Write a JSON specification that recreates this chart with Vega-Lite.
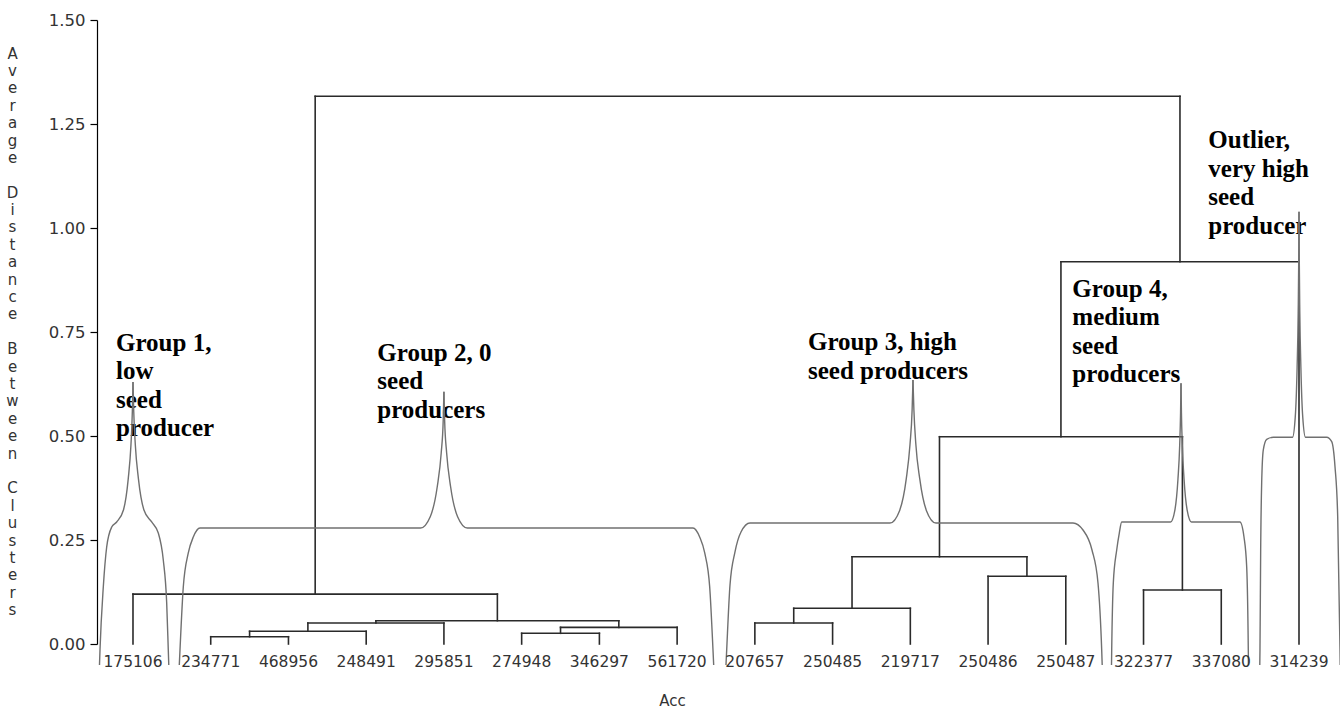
{
  "$schema": "https://vega.github.io/schema/vega-lite/v6.json",
  "width": 1239,
  "height": 624,
  "autosize": "none",
  "padding": {"left": 97, "top": 20, "right": 4, "bottom": 75},
  "background": "white",
  "config": {"view": {"stroke": null}},
  "datasets": {
    "segments": [
      {"x":2,"x2":3,"y":0.0175,"y2":0.0175},
      {"x":2.5,"x2":4,"y":0.0305,"y2":0.0305},
      {"x":3.25,"x2":5,"y":0.0505,"y2":0.0505},
      {"x":6,"x2":7,"y":0.0257,"y2":0.0257},
      {"x":6.5,"x2":8,"y":0.04,"y2":0.04},
      {"x":4.125,"x2":7.25,"y":0.056,"y2":0.056},
      {"x":1,"x2":5.6875,"y":0.12,"y2":0.12},
      {"x":9,"x2":10,"y":0.0505,"y2":0.0505},
      {"x":9.5,"x2":11,"y":0.0858,"y2":0.0858},
      {"x":12,"x2":13,"y":0.1627,"y2":0.1627},
      {"x":10.25,"x2":12.5,"y":0.2099,"y2":0.2099},
      {"x":14,"x2":15,"y":0.1298,"y2":0.1298},
      {"x":11.375,"x2":14.5,"y":0.4983,"y2":0.4983},
      {"x":12.9375,"x2":16,"y":0.919,"y2":0.919},
      {"x":3.34375,"x2":14.46875,"y":1.3166,"y2":1.3166},
      {"x":1,"x2":1,"y":0,"y2":0.12},
      {"x":2,"x2":2,"y":0,"y2":0.0175},
      {"x":3,"x2":3,"y":0,"y2":0.0175},
      {"x":2.5,"x2":2.5,"y":0.0175,"y2":0.0305},
      {"x":4,"x2":4,"y":0,"y2":0.0305},
      {"x":3.25,"x2":3.25,"y":0.0305,"y2":0.0505},
      {"x":5,"x2":5,"y":0,"y2":0.0505},
      {"x":4.125,"x2":4.125,"y":0.0505,"y2":0.056},
      {"x":6,"x2":6,"y":0,"y2":0.0257},
      {"x":7,"x2":7,"y":0,"y2":0.0257},
      {"x":6.5,"x2":6.5,"y":0.0257,"y2":0.04},
      {"x":8,"x2":8,"y":0,"y2":0.04},
      {"x":7.25,"x2":7.25,"y":0.04,"y2":0.056},
      {"x":5.6875,"x2":5.6875,"y":0.056,"y2":0.12},
      {"x":3.34375,"x2":3.34375,"y":0.12,"y2":1.3166},
      {"x":9,"x2":9,"y":0,"y2":0.0505},
      {"x":10,"x2":10,"y":0,"y2":0.0505},
      {"x":9.5,"x2":9.5,"y":0.0505,"y2":0.0858},
      {"x":11,"x2":11,"y":0,"y2":0.0858},
      {"x":10.25,"x2":10.25,"y":0.0858,"y2":0.2099},
      {"x":12,"x2":12,"y":0,"y2":0.1627},
      {"x":13,"x2":13,"y":0,"y2":0.1627},
      {"x":12.5,"x2":12.5,"y":0.1627,"y2":0.2099},
      {"x":11.375,"x2":11.375,"y":0.2099,"y2":0.4983},
      {"x":14,"x2":14,"y":0,"y2":0.1298},
      {"x":15,"x2":15,"y":0,"y2":0.1298},
      {"x":14.5,"x2":14.5,"y":0.1298,"y2":0.4983},
      {"x":12.9375,"x2":12.9375,"y":0.4983,"y2":0.919},
      {"x":16,"x2":16,"y":0,"y2":0.919},
      {"x":14.46875,"x2":14.46875,"y":0.919,"y2":1.3166}
    ],
    "leaves": [
      {"x":1,"y":0,"acc":"175106"},{"x":2,"y":0,"acc":"234771"},{"x":3,"y":0,"acc":"468956"},{"x":4,"y":0,"acc":"248491"},
      {"x":5,"y":0,"acc":"295851"},{"x":6,"y":0,"acc":"274948"},{"x":7,"y":0,"acc":"346297"},{"x":8,"y":0,"acc":"561720"},
      {"x":9,"y":0,"acc":"207657"},{"x":10,"y":0,"acc":"250485"},{"x":11,"y":0,"acc":"219717"},{"x":12,"y":0,"acc":"250486"},
      {"x":13,"y":0,"acc":"250487"},{"x":14,"y":0,"acc":"322377"},{"x":15,"y":0,"acc":"337080"},{"x":16,"y":0,"acc":"314239"}
    ],
    "notes": [
      {"x":0.7813,"y":0.705,"label":"Group 1,|low|seed|producer"},
      {"x":4.143,"y":0.681,"label":"Group 2, 0|seed|producers"},
      {"x":9.684,"y":0.7067,"label":"Group 3, high|seed producers"},
      {"x":13.084,"y":0.8349,"label":"Group 4,|medium|seed|producers"},
      {"x":14.833,"y":1.1916,"label":"Outlier,|very high|seed|producer"}
    ],
    "braces": [
      {"b":"g1a","x":0.569,"y":-0.0505},{"b":"g1a","x":0.5755,"y":-0.0144},{"b":"g1a","x":0.618,"y":0.137},{"b":"g1a","x":0.6616,"y":0.2332},{"b":"g1a","x":0.726,"y":0.2812},{"b":"g1a","x":0.7903,"y":0.2933},{"b":"g1a","x":0.8784,"y":0.3228},{"b":"g1a","x":0.9391,"y":0.3976},{"b":"g1a","x":0.9737,"y":0.4784},{"b":"g1a","x":0.9916,"y":0.5591},{"b":"g1a","x":1.0,"y":0.6298},
      {"b":"g1b","x":1.0,"y":0.6298},{"b":"g1b","x":1.0096,"y":0.5591},{"b":"g1b","x":1.0301,"y":0.4784},{"b":"g1b","x":1.0697,"y":0.3976},{"b":"g1b","x":1.1396,"y":0.3228},{"b":"g1b","x":1.2405,"y":0.2933},{"b":"g1b","x":1.3254,"y":0.2668},{"b":"g1b","x":1.3898,"y":0.2019},{"b":"g1b","x":1.4335,"y":0.0986},{"b":"g1b","x":1.4541,"y":-0.0144},{"b":"g1b","x":1.4605,"y":-0.0505},
      {"b":"g2a","x":1.5956,"y":-0.0505},{"b":"g2a","x":1.6046,"y":-0.0144},{"b":"g2a","x":1.6471,"y":0.137},{"b":"g2a","x":1.7114,"y":0.2188},{"b":"g2a","x":1.7757,"y":0.2572},{"b":"g2a","x":1.8619,"y":0.2788},{"b":"g2a","x":4.699,"y":0.2788},{"b":"g2a","x":4.824,"y":0.306},{"b":"g2a","x":4.914,"y":0.378},{"b":"g2a","x":4.965,"y":0.459},{"b":"g2a","x":4.991,"y":0.5385},{"b":"g2a","x":5.0,"y":0.6065},
      {"b":"g2b","x":5.0,"y":0.6065},{"b":"g2b","x":5.009,"y":0.5385},{"b":"g2b","x":5.035,"y":0.459},{"b":"g2b","x":5.086,"y":0.378},{"b":"g2b","x":5.176,"y":0.306},{"b":"g2b","x":5.301,"y":0.2788},{"b":"g2b","x":8.204,"y":0.2788},{"b":"g2b","x":8.29,"y":0.2572},{"b":"g2b","x":8.355,"y":0.2188},{"b":"g2b","x":8.419,"y":0.137},{"b":"g2b","x":8.4614,"y":-0.0144},{"b":"g2b","x":8.4704,"y":-0.0505},
      {"b":"g3a","x":8.6286,"y":-0.0505},{"b":"g3a","x":8.6376,"y":-0.0144},{"b":"g3a","x":8.6801,"y":0.1418},{"b":"g3a","x":8.7444,"y":0.2212},{"b":"g3a","x":8.8216,"y":0.2692},{"b":"g3a","x":8.9374,"y":0.2909},{"b":"g3a","x":10.738,"y":0.2909},{"b":"g3a","x":10.863,"y":0.3212},{"b":"g3a","x":10.948,"y":0.3974},{"b":"g3a","x":10.996,"y":0.4801},{"b":"g3a","x":11.023,"y":0.5625},{"b":"g3a","x":11.034,"y":0.6346},
      {"b":"g3b","x":11.034,"y":0.6346},{"b":"g3b","x":11.046,"y":0.5625},{"b":"g3b","x":11.071,"y":0.4801},{"b":"g3b","x":11.121,"y":0.3974},{"b":"g3b","x":11.206,"y":0.3212},{"b":"g3b","x":11.33,"y":0.2909},{"b":"g3b","x":13.0927,"y":0.2909},{"b":"g3b","x":13.2213,"y":0.274},{"b":"g3b","x":13.337,"y":0.226},{"b":"g3b","x":13.4142,"y":0.1466},{"b":"g3b","x":13.4618,"y":-0.0144},{"b":"g3b","x":13.4683,"y":-0.0505},
      {"b":"g4a","x":13.588,"y":-0.0505},{"b":"g4a","x":13.5906,"y":-0.0144},{"b":"g4a","x":13.6112,"y":0.1466},{"b":"g4a","x":13.6549,"y":0.226},{"b":"g4a","x":13.6884,"y":0.2668},{"b":"g4a","x":13.7193,"y":0.2933},{"b":"g4a","x":14.347,"y":0.2933},{"b":"g4a","x":14.404,"y":0.3226},{"b":"g4a","x":14.443,"y":0.3966},{"b":"g4a","x":14.465,"y":0.4767},{"b":"g4a","x":14.4766,"y":0.5567},{"b":"g4a","x":14.4821,"y":0.6267},
      {"b":"g4b","x":14.4821,"y":0.6267},{"b":"g4b","x":14.4875,"y":0.5567},{"b":"g4b","x":14.499,"y":0.4767},{"b":"g4b","x":14.5212,"y":0.3966},{"b":"g4b","x":14.5605,"y":0.3226},{"b":"g4b","x":14.6171,"y":0.2933},{"b":"g4b","x":15.241,"y":0.2933},{"b":"g4b","x":15.2924,"y":0.2572},{"b":"g4b","x":15.3272,"y":0.1851},{"b":"g4b","x":15.3477,"y":-0.0144},{"b":"g4b","x":15.3497,"y":-0.0505},
      {"b":"g5a","x":15.4954,"y":-0.0505},{"b":"g5a","x":15.498,"y":-0.0144},{"b":"g5a","x":15.507,"y":0.226},{"b":"g5a","x":15.5198,"y":0.387},{"b":"g5a","x":15.5404,"y":0.4663},{"b":"g5a","x":15.5842,"y":0.4921},{"b":"g5a","x":15.6691,"y":0.4969},{"b":"g5a","x":15.9164,"y":0.4969},{"b":"g5a","x":15.9515,"y":0.5447},{"b":"g5a","x":15.9758,"y":0.6649},{"b":"g5a","x":15.9896,"y":0.7952},{"b":"g5a","x":15.9967,"y":0.9252},{"b":"g5a","x":16.0,"y":1.0392},
      {"b":"g5b","x":16.0,"y":1.0392},{"b":"g5b","x":16.0034,"y":0.9252},{"b":"g5b","x":16.0104,"y":0.7952},{"b":"g5b","x":16.0243,"y":0.6649},{"b":"g5b","x":16.0485,"y":0.5447},{"b":"g5b","x":16.0837,"y":0.4969},{"b":"g5b","x":16.3564,"y":0.4969},{"b":"g5b","x":16.4207,"y":0.4863},{"b":"g5b","x":16.4632,"y":0.4262},{"b":"g5b","x":16.4979,"y":0.306},{"b":"g5b","x":16.5275,"y":-0.0144},{"b":"g5b","x":16.53,"y":-0.0505}
    ]
  },
  "encoding": {
    "x": {
      "field": "x", "type": "quantitative",
      "scale": {"domain": [0.537, 16.476], "nice": false, "zero": false},
      "axis": {
        "title": "Acc", "labels": false, "ticks": false, "domain": false, "grid": false,
        "titleX": 575, "titleY": 56, "titleAlign": "center", "titleBaseline": "middle",
        "titleFont": "DejaVu Sans", "titleFontSize": 15, "titleFontWeight": "normal", "titleColor": "#333333"
      }
    },
    "y": {
      "field": "y", "type": "quantitative",
      "scale": {"domain": [0, 1.5], "nice": false, "zero": false},
      "axis": {
        "title": ["A","v","e","r","a","g","e","\u2800","D","i","s","t","a","n","c","e","\u2800","B","e","t","w","e","e","n","\u2800","C","l","u","s","t","e","r","s"],
        "values": [0, 0.25, 0.5, 0.75, 1, 1.25, 1.5],
        "format": ".2f", "grid": false,
        "tickSize": 7, "tickColor": "#000000", "tickWidth": 1.2,
        "domainColor": "#000000", "domainWidth": 1.2,
        "labelFont": "DejaVu Sans", "labelFontSize": 16.5, "labelColor": "#333333", "labelPadding": 5,
        "titleAngle": 0, "titleX": -85, "titleY": 26, "titleAlign": "center", "titleBaseline": "top",
        "titleLineHeight": 17.4, "titleFont": "DejaVu Sans", "titleFontSize": 15,
        "titleFontWeight": "normal", "titleColor": "#333333"
      }
    }
  },
  "layer": [
    {
      "data": {"name": "notes"},
      "mark": {"type": "text", "align": "left", "baseline": "alphabetic", "lineBreak": "|", "lineHeight": 28.5,
               "font": "Liberation Serif", "fontWeight": "bold", "fontSize": 25, "color": "#000000"},
      "encoding": {"text": {"field": "label", "type": "nominal"}}
    },
    {
      "data": {"name": "segments"},
      "mark": {"type": "rule", "color": "#2a2a2a", "strokeWidth": 1.6, "strokeCap": "square"},
      "encoding": {
        "x2": {"field": "x2"},
        "y2": {"field": "y2"}
      }
    },
    {
      "data": {"name": "braces"},
      "mark": {"type": "line", "interpolate": "monotone", "color": "#707070", "strokeWidth": 1.4},
      "encoding": {"detail": {"field": "b", "type": "nominal"}}
    },
    {
      "data": {"name": "leaves"},
      "mark": {"type": "text", "align": "center", "baseline": "middle", "dy": 18,
               "font": "DejaVu Sans", "fontSize": 15.5, "color": "#333333"},
      "encoding": {
        "text": {"field": "acc", "type": "nominal"}
      }
    }
  ]
}
